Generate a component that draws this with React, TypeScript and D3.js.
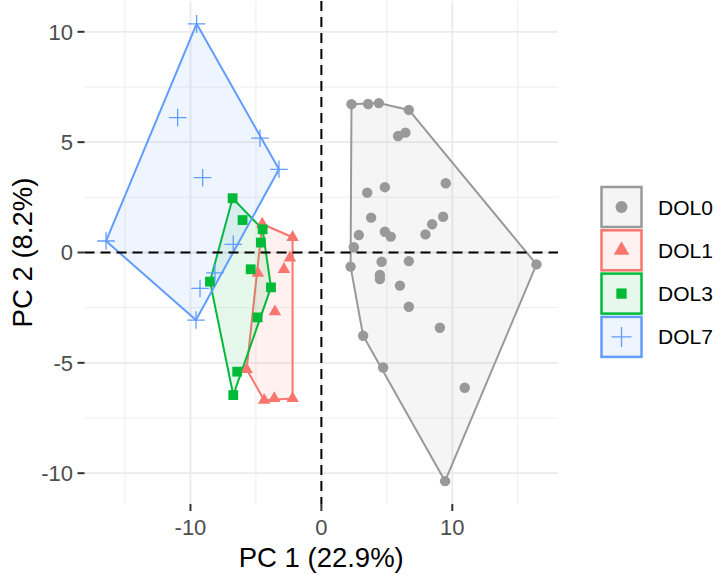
import React from 'react';
import * as d3 from 'd3';

// PCA scores, one pair of arrays per group
const groups = ['DOL0', 'DOL1', 'DOL3', 'DOL7'];
const colors = ['#999999', '#F8766D', '#00BA38', '#619CFF'];

const dol0X = [2.3, 3.57, 4.39, 6.68, 5.86, 6.42, 9.5, 3.5, 4.85, 3.8, 9.3, 8.46, 7.95, 2.86, 4.85, 5.3, 2.48, 2.23, 4.6, 6.68, 16.43, 4.47, 4.47, 6.0, 6.68, 9.05, 3.19, 4.72, 10.95, 9.45];
const dol0Y = [6.72, 6.73, 6.77, 6.46, 5.28, 5.43, 3.14, 2.71, 2.96, 1.58, 1.62, 1.28, 0.82, 0.79, 0.94, 0.72, 0.24, -0.64, -0.42, -0.39, -0.54, -1.02, -1.2, -1.5, -2.46, -3.41, -3.77, -5.21, -6.13, -10.36];

const dol1X = [-4.52, -2.2, -2.4, -2.86, -4.85, -3.55, -5.71, -4.37, -3.6, -2.2];
const dol1Y = [1.29, 0.69, -0.24, -0.76, -0.94, -2.68, -5.3, -6.69, -6.61, -6.61];

const dol3X = [-6.78, -6.02, -4.49, -4.62, -5.4, -8.51, -3.85, -4.87, -6.43, -6.73];
const dol3Y = [2.46, 1.47, 1.05, 0.45, -0.76, -1.32, -1.58, -2.94, -5.4, -6.46];

const dol7X = [-9.53, -10.98, -4.69, -3.24, -9.07, -16.45, -6.73, -8.13, -9.27, -9.58];
const dol7Y = [10.36, 6.11, 5.18, 3.77, 3.39, 0.52, 0.37, -0.92, -1.63, -3.06];

const xTicks = [-10, 0, 10];
const xMinor = [-15, -5, 5, 15];
const yTicks = [-10, -5, 0, 5, 10];
const yMinor = [-7.5, -2.5, 2.5, 7.5];

const xLabel = 'PC 1 (22.9%)';
const yLabel = 'PC 2 (8.2%)';

const W = 724;
const H = 575;
const panel = { left: 84.5, right: 558, top: 1, bottom: 504 };
const font = '"Liberation Sans", Arial, sans-serif';

const allX = [...dol0X, ...dol1X, ...dol3X, ...dol7X];
const allY = [...dol0Y, ...dol1Y, ...dol3Y, ...dol7Y];

function expand(ext: [number, number]) {
  const pad = (ext[1] - ext[0]) * 0.05;
  return [ext[0] - pad, ext[1] + pad];
}

const x = d3.scaleLinear()
  .domain(expand(d3.extent(allX) as [number, number]))
  .range([panel.left, panel.right]);
const y = d3.scaleLinear()
  .domain(expand(d3.extent(allY) as [number, number]))
  .range([panel.bottom, panel.top]);

const series = [
  { xs: dol0X, ys: dol0Y },
  { xs: dol1X, ys: dol1Y },
  { xs: dol3X, ys: dol3Y },
  { xs: dol7X, ys: dol7Y },
];

// one symbol per group: circle, triangle, square, plus
const Marker = ({ i, cx, cy, big }: { i: number; cx: number; cy: number; big?: boolean }) => {
  const c = colors[i];
  const k = big ? 1.15 : 1;
  if (i === 0) return <circle cx={cx} cy={cy} r={5.2 * k} fill={c} />;
  if (i === 1) {
    const s = 12.5 * (big ? 1.25 : 1);
    const h = s * 0.866;
    return (
      <path
        d={`M${cx},${cy - (2 * h) / 3}L${cx + s / 2},${cy + h / 3}L${cx - s / 2},${cy + h / 3}Z`}
        fill={c}
      />
    );
  }
  if (i === 2) {
    const s = 9.8 * (big ? 1.05 : 1);
    return <rect x={cx - s / 2} y={cy - s / 2} width={s} height={s} fill={c} />;
  }
  const a = big ? 10 : 8.8;
  return (
    <path
      d={`M${cx - a},${cy}H${cx + a}M${cx},${cy - a}V${cy + a}`}
      stroke={c}
      strokeWidth={1.3}
      fill="none"
    />
  );
};

export default function App() {
  const hulls = series.map((s) =>
    d3.polygonHull(s.xs.map((v, j) => [x(v), y(s.ys[j])] as [number, number]))
  );

  const legendTop = 187;
  const keySize = 40;
  const keyStep = 43.3;

  return (
    <svg
      width={W}
      height={H}
      style={{ position: 'absolute', left: 0, top: 0, background: '#fff' }}
      fontFamily={font}
    >
      <rect width={W} height={H} fill="#fff" />

      {/* grid */}
      <g>
        {xMinor.map((t) => (
          <line key={'xm' + t} x1={x(t)} x2={x(t)} y1={panel.top} y2={panel.bottom} stroke="#ebebeb" strokeWidth={0.9} />
        ))}
        {yMinor.map((t) => (
          <line key={'ym' + t} x1={panel.left} x2={panel.right} y1={y(t)} y2={y(t)} stroke="#ebebeb" strokeWidth={0.9} />
        ))}
        {xTicks.map((t) => (
          <line key={'xg' + t} x1={x(t)} x2={x(t)} y1={panel.top} y2={panel.bottom} stroke="#ebebeb" strokeWidth={1.8} />
        ))}
        {yTicks.map((t) => (
          <line key={'yg' + t} x1={panel.left} x2={panel.right} y1={y(t)} y2={y(t)} stroke="#ebebeb" strokeWidth={1.8} />
        ))}
      </g>

      {/* convex hulls */}
      {hulls.map((h, i) =>
        h ? (
          <path
            key={'h' + i}
            d={d3.line()(h.concat([h[0]])) || ''}
            fill={colors[i]}
            fillOpacity={0.1}
            stroke={colors[i]}
            strokeWidth={2}
            strokeLinejoin="round"
          />
        ) : null
      )}

      {/* points */}
      {series.map((s, i) => (
        <g key={'p' + i}>
          {s.xs.map((v, j) => (
            <Marker key={j} i={i} cx={x(v)} cy={y(s.ys[j])} />
          ))}
        </g>
      ))}

      {/* reference lines */}
      <line x1={x(0)} x2={x(0)} y1={panel.top} y2={panel.bottom} stroke="#000" strokeWidth={2} strokeDasharray="10,6" />
      <line x1={panel.left} x2={panel.right} y1={y(0)} y2={y(0)} stroke="#000" strokeWidth={2} strokeDasharray="10,6" />

      {/* axes */}
      {xTicks.map((t) => (
        <g key={'xt' + t}>
          <line x1={x(t)} x2={x(t)} y1={panel.bottom} y2={panel.bottom + 7} stroke="#333" strokeWidth={2} />
          <text x={x(t)} y={535} textAnchor="middle" fontSize={22} fill="#4d4d4d">
            {t}
          </text>
        </g>
      ))}
      {yTicks.map((t) => (
        <g key={'yt' + t}>
          <line x1={panel.left - 7} x2={panel.left} y1={y(t)} y2={y(t)} stroke="#333" strokeWidth={2} />
          <text x={73} y={y(t)} dy="0.36em" textAnchor="end" fontSize={22} fill="#4d4d4d">
            {t}
          </text>
        </g>
      ))}

      <text x={(panel.left + panel.right) / 2} y={567} textAnchor="middle" fontSize={27.5} fill="#000">
        {xLabel}
      </text>
      <text
        transform={`translate(32,${(panel.top + panel.bottom) / 2}) rotate(-90)`}
        textAnchor="middle"
        fontSize={27.5}
        fill="#000"
      >
        {yLabel}
      </text>

      {/* legend */}
      {groups.map((g, i) => {
        const ky = legendTop + i * keyStep;
        return (
          <g key={g}>
            <rect
              x={601.5}
              y={ky}
              width={keySize}
              height={keySize}
              fill={colors[i]}
              fillOpacity={0.1}
              stroke={colors[i]}
              strokeWidth={2.5}
            />
            <Marker i={i} cx={601.5 + keySize / 2} cy={ky + keySize / 2} big />
            <text x={658} y={ky + keySize / 2} dy="0.36em" fontSize={21} fill="#000">
              {g}
            </text>
          </g>
        );
      })}
    </svg>
  );
}
